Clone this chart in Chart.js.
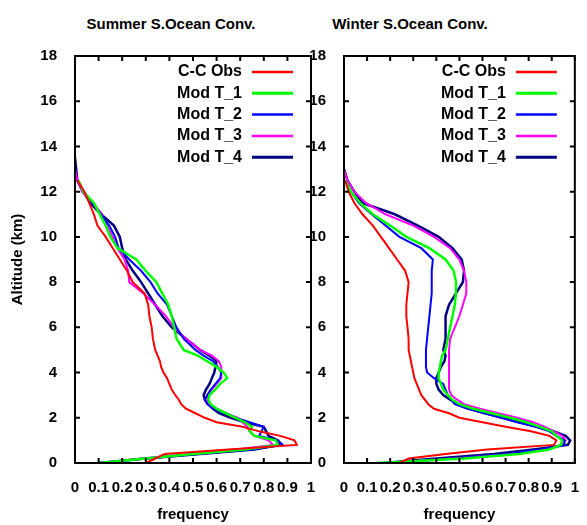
<!DOCTYPE html>
<html>
<head>
<meta charset="utf-8">
<script src="https://cdn.jsdelivr.net/npm/chart.js@4.4.1/dist/chart.umd.min.js"></script>
<style>
  body { margin: 0; background: #fff; }
  .wrap { position: relative; width: 587px; height: 525px; }
  canvas { position: absolute; left: 0; top: 0; }
  .title {
    position: absolute; top: 23px; transform: translate(-50%, -50%);
    font: bold 15px "Liberation Sans", Arial, sans-serif; color: #000; white-space: nowrap;
  }
</style>
</head>
<body>
<div class="wrap">
  <div class="title" style="left:171px">Summer S.Ocean Conv.</div>
  <div class="title" style="left:410px">Winter S.Ocean Conv.</div>
  <canvas id="summer" width="587" height="525"></canvas>
  <canvas id="winter" width="587" height="525"></canvas>
</div>
<script>
// altitude levels (km) shared by every profile
const altLevels = [0, 0.2, 0.4, 0.6, 0.8, 1.0, 1.2, 1.4, 1.6, 1.8, 2.0, 2.2, 2.4, 2.6, 2.8,
  3.0, 3.25, 3.5, 3.75, 4.0, 4.25, 4.5, 4.75, 5.0, 5.5, 6.0, 6.5, 7.0, 7.5, 8.0, 8.5, 9.0, 9.5,
  10.0, 10.5, 11.0, 11.5, 12.0, 12.5, 13.0, 13.5];

const seriesLabels = ["C-C Obs", "Mod T_1", "Mod T_2", "Mod T_3", "Mod T_4"];
const seriesColors = ["#ff0000", "#00ff00", "#0000ff", "#ff00ff", "#000080"];
const seriesWidths = [2, 2.5, 2, 2, 2.5];

// summer frequencies
const sumObs = [0.30, 0.34, 0.38, 0.65, 0.94, 0.93, 0.87, 0.78, 0.71, 0.60,
  0.55, 0.51, 0.47, 0.45, 0.44, 0.425, 0.41, 0.40, 0.39, 0.375, 0.365, 0.36, 0.35,
  0.34, 0.33, 0.325, 0.315, 0.31, 0.295, 0.245, 0.22, 0.19, 0.16,
  0.13, 0.095, 0.08, 0.06, 0.04, 0.01, null, null];
const sumT1 = [0.10, 0.30, 0.50, 0.72, 0.86, 0.85, 0.76, 0.74, 0.75, 0.72,
  0.68, 0.64, 0.60, 0.575, 0.565, 0.57, 0.595, 0.615, 0.645, 0.63, 0.60, 0.56, 0.52,
  0.46, 0.43, 0.42, 0.41, 0.395, 0.37, 0.345, 0.30, 0.26, 0.18,
  0.15, 0.13, 0.105, 0.08, 0.035, 0.015, null, null];
const sumT2 = [0.10, 0.30, 0.52, 0.75, 0.88, 0.86, 0.78, 0.79, 0.80, 0.74,
  0.68, 0.64, 0.585, 0.56, 0.55, 0.56, 0.575, 0.595, 0.615, 0.62, 0.605, 0.585, 0.545,
  0.51, 0.46, 0.43, 0.41, 0.39, 0.35, 0.32, 0.28, 0.23, 0.185,
  0.17, 0.145, 0.11, 0.075, 0.035, 0.01, null, null];
const sumT3 = [0.10, 0.28, 0.50, 0.68, 0.84, 0.82, 0.76, 0.74, 0.73, 0.71,
  0.69, 0.64, 0.60, 0.57, 0.56, 0.56, 0.58, 0.60, 0.62, 0.62, 0.62, 0.61, 0.58,
  0.53, 0.47, 0.42, 0.385, 0.34, 0.29, 0.23, 0.225, 0.21, 0.18,
  0.16, 0.135, 0.115, 0.075, 0.03, 0.01, 0.0, null];
const sumT4 = [0.10, 0.30, 0.53, 0.76, 0.87, 0.86, 0.82, 0.81, 0.80, 0.72,
  0.66, 0.61, 0.585, 0.565, 0.55, 0.545, 0.555, 0.57, 0.58, 0.59, 0.595, 0.60, 0.57,
  0.53, 0.47, 0.41, 0.37, 0.34, 0.31, 0.28, 0.245, 0.215, 0.20,
  0.19, 0.165, 0.11, 0.065, 0.035, 0.01, 0.005, 0.0];

// winter frequencies
const winObs = [0.24, 0.28, 0.44, 0.62, 0.91, 0.92, 0.89, 0.81, 0.70, 0.60,
  0.50, 0.455, 0.39, 0.365, 0.35, 0.335, 0.325, 0.315, 0.305, 0.30, 0.295, 0.29, 0.285,
  0.28, 0.28, 0.275, 0.27, 0.27, 0.275, 0.28, 0.265, 0.23, 0.195,
  0.16, 0.125, 0.08, 0.045, 0.02, 0.005, null, null];
const winT1 = [0.15, 0.52, 0.76, 0.89, 0.94, 0.945, 0.92, 0.90, 0.85, 0.79,
  0.72, 0.64, 0.56, 0.50, 0.47, 0.45, 0.43, 0.42, 0.41, 0.41, 0.415, 0.42, 0.425,
  0.44, 0.45, 0.46, 0.47, 0.48, 0.485, 0.485, 0.475, 0.44, 0.37,
  0.27, 0.20, 0.125, 0.07, 0.03, 0.005, null, null];
const winT2 = [0.19, 0.48, 0.71, 0.85, 0.955, 0.955, 0.92, 0.89, 0.83, 0.75,
  0.68, 0.61, 0.535, 0.48, 0.465, 0.45, 0.44, 0.43, 0.39, 0.36, 0.355, 0.355, 0.355,
  0.355, 0.36, 0.365, 0.37, 0.375, 0.38, 0.38, 0.38, 0.385, 0.335,
  0.24, 0.18, 0.12, 0.065, 0.03, 0.005, null, null];
const winT3 = [0.20, 0.47, 0.72, 0.88, 0.94, 0.96, 0.945, 0.91, 0.87, 0.82,
  0.75, 0.67, 0.59, 0.52, 0.49, 0.465, 0.455, 0.455, 0.455, 0.455, 0.455, 0.455, 0.455,
  0.455, 0.46, 0.48, 0.50, 0.515, 0.53, 0.53, 0.52, 0.50, 0.46,
  0.39, 0.30, 0.18, 0.095, 0.045, 0.015, 0.0, null];
const winT4 = [0.17, 0.40, 0.65, 0.82, 0.97, 0.98, 0.96, 0.91, 0.84, 0.76,
  0.69, 0.61, 0.545, 0.495, 0.46, 0.43, 0.41, 0.40, 0.40, 0.41, 0.42, 0.435, 0.44,
  0.43, 0.44, 0.44, 0.44, 0.455, 0.485, 0.515, 0.52, 0.51, 0.47,
  0.41, 0.32, 0.22, 0.08, 0.045, 0.015, 0.0, null];

const FONT = '"Liberation Sans", Arial, sans-serif';

const profile = (values) => altLevels
  .map((a, i) => ({ x: values[i], y: a }))
  .filter(p => p.x !== null);

// frame with inward ticks + gnuplot style legend (text, then line sample)
const framePlugin = {
  id: "frame",
  afterDatasetsDraw(chart) {
    const { ctx, chartArea: a, scales: { x, y } } = chart;
    ctx.save();
    ctx.strokeStyle = "#000";
    ctx.lineWidth = 2;
    ctx.strokeRect(a.left, a.top, a.right - a.left, a.bottom - a.top);
    ctx.beginPath();
    x.ticks.forEach(t => {
      const px = x.getPixelForValue(t.value);
      ctx.moveTo(px, a.bottom); ctx.lineTo(px, a.bottom - 5);
      ctx.moveTo(px, a.top); ctx.lineTo(px, a.top + 5);
    });
    y.ticks.forEach(t => {
      const py = y.getPixelForValue(t.value);
      ctx.moveTo(a.left, py); ctx.lineTo(a.left + 5, py);
      ctx.moveTo(a.right, py); ctx.lineTo(a.right - 5, py);
    });
    ctx.stroke();

    ctx.font = "bold 16px " + FONT;
    ctx.textAlign = "right";
    ctx.textBaseline = "middle";
    chart.data.datasets.forEach((ds, i) => {
      const ly = a.top + 16 + i * 21.3;
      ctx.fillStyle = "#000";
      ctx.fillText(ds.label, a.right - 69, ly);
      ctx.strokeStyle = ds.borderColor;
      ctx.lineWidth = ds.borderWidth + 0.5;
      ctx.beginPath();
      ctx.moveTo(a.right - 59, ly);
      ctx.lineTo(a.right - 18, ly);
      ctx.stroke();
    });
    ctx.restore();
  }
};

const makeChart = (id, series, pad, yWidth, yTitle) => {
  new Chart(document.getElementById(id), {
    type: "scatter",
    data: {
      datasets: series.map((vals, i) => ({
        label: seriesLabels[i],
        data: profile(vals),
        showLine: true,
        borderColor: seriesColors[i],
        borderWidth: seriesWidths[i],
        pointRadius: 0,
        tension: 0
      }))
    },
    options: {
      responsive: false,
      animation: false,
      layout: { padding: pad },
      plugins: { legend: { display: false }, tooltip: { enabled: false } },
      scales: {
        x: {
          min: 0, max: 1,
          afterFit: s => { s.height = 62; },
          grid: { display: false },
          border: { display: false },
          ticks: {
            stepSize: 0.1, autoSkip: false, maxRotation: 0, padding: 8, color: "#000",
            font: { family: FONT, size: 15, weight: "bold" },
            callback: v => String(+v.toFixed(1))
          },
          title: {
            display: true, text: "frequency", color: "#000",
            font: { family: FONT, size: 15, weight: "bold" },
            padding: { top: 0, bottom: 1 }
          }
        },
        y: {
          min: 0, max: 18,
          afterFit: s => { s.width = yWidth; },
          grid: { display: false },
          border: { display: false },
          ticks: {
            stepSize: 2, padding: 10, color: "#000",
            font: { family: FONT, size: 15, weight: "bold" }
          },
          title: {
            display: yTitle, text: "Altitude (km)", color: "#000",
            font: { family: FONT, size: 15, weight: "bold" },
            padding: { top: 9, bottom: 0 }
          }
        }
      }
    },
    plugins: [framePlugin]
  });
};

makeChart("summer", [sumObs, sumT1, sumT2, sumT3, sumT4],
  { left: 0, right: 276, top: 56, bottom: 0 }, 75, true);
makeChart("winter", [winObs, winT1, winT2, winT3, winT4],
  { left: 300, right: 10, top: 56, bottom: 0 }, 44, false);
</script>
</body>
</html>
